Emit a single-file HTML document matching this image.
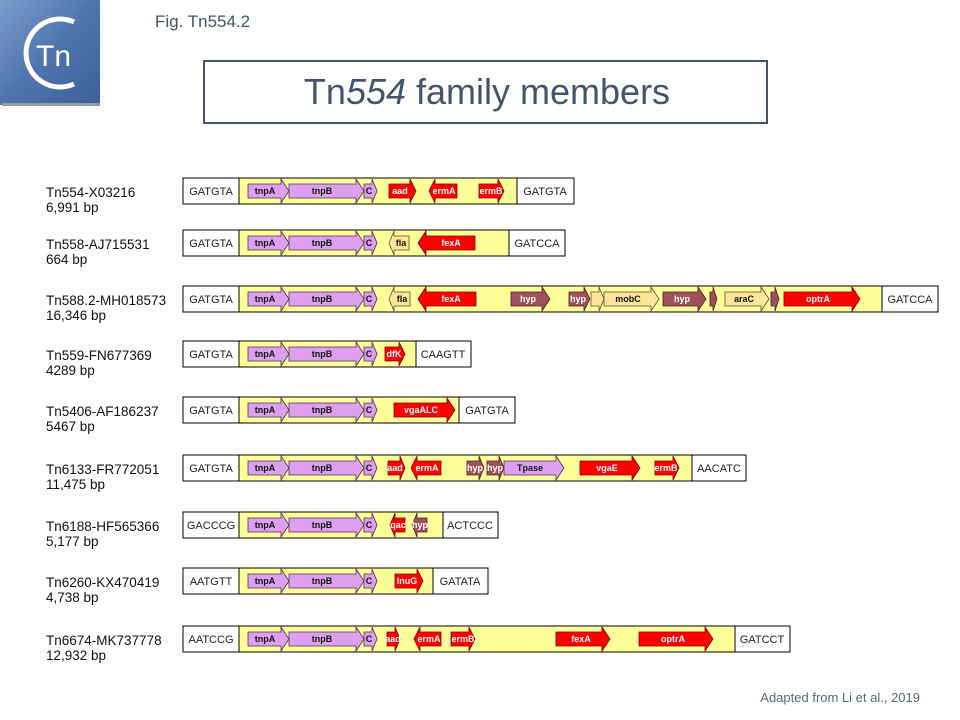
<!DOCTYPE html>
<html><head><meta charset="utf-8"><style>
body{margin:0;background:#fff}
svg{display:block}
.b{fill:#fff;stroke:#000;stroke-width:1}
.y{fill:#ffff99;stroke:#000;stroke-width:1}
.bt{font:11px "Liberation Sans",sans-serif;fill:#222;text-anchor:middle}
.p{fill:#dda0f0;stroke:#4a3050;stroke-width:.8}
.r{fill:#ff0000;stroke:#800000;stroke-width:.8}
.h{fill:#a0505a;stroke:#502028;stroke-width:.8}
.l{fill:#ffe599;stroke:#505030;stroke-width:.8}
.g{font:bold 9px "Liberation Sans",sans-serif;text-anchor:middle}
.gd{fill:#111}.gw{fill:#fff}
.nm{font:13.5px "Liberation Sans",sans-serif;fill:#111}
</style></head><body>
<svg width="960" height="720" viewBox="0 0 960 720" xmlns="http://www.w3.org/2000/svg">
<defs>
<linearGradient id="lg" x1="0" y1="0" x2="1" y2="1"><stop offset="0" stop-color="#7d9ccc"/><stop offset=".5" stop-color="#4f74ae"/><stop offset="1" stop-color="#3d609a"/></linearGradient>
<g id="core">
<polygon class="p" points="248,-7 281,-7 281,-12 289,0 281,12 281,7 248,7"/><text class="g gd" x="265" y="3">tnpA</text>
<polygon class="p" points="289,-7 356,-7 356,-12 364,0 356,12 356,7 289,7"/><text class="g gd" x="322" y="3">tnpB</text>
<polygon class="p" points="364,-7 372,-7 372,-12 377,0 372,12 372,7 364,7"/><text class="g gd" x="369" y="3">C</text>
</g>
</defs>
<rect x="0" y="0" width="100" height="105" fill="url(#lg)"/>
<rect x="2" y="103" width="98" height="3" fill="#999"/>
<path d="M74,22 A34,34 0 1 0 74,84" fill="none" stroke="#fff" stroke-width="5"/>
<text x="36" y="66" font-family="Liberation Sans,sans-serif" font-size="30" fill="#fff">Tn</text>
<text x="155" y="27" font-family="Liberation Sans,sans-serif" font-size="17" fill="#44546a">Fig. Tn554.2</text>
<rect x="204" y="61" width="563" height="62" fill="#fff" stroke="#44546a" stroke-width="2"/>
<text x="487" y="104" font-family="Liberation Sans,sans-serif" font-size="36" fill="#44546a" text-anchor="middle">Tn<tspan font-style="italic">554</tspan> family members</text>
<text x="920" y="702" font-family="Liberation Sans,sans-serif" font-size="13" fill="#5a6a7a" text-anchor="end">Adapted from Li et al., 2019</text>

<g class="nm">
<text x="46" y="197">Tn554-X03216</text><text x="46" y="212">6,991 bp</text>
<text x="46" y="249">Tn558-AJ715531</text><text x="46" y="264">664 bp</text>
<text x="46" y="305">Tn588.2-MH018573</text><text x="46" y="320">16,346 bp</text>
<text x="46" y="360">Tn559-FN677369</text><text x="46" y="375">4289 bp</text>
<text x="46" y="416">Tn5406-AF186237</text><text x="46" y="431">5467 bp</text>
<text x="46" y="474">Tn6133-FR772051</text><text x="46" y="489">11,475 bp</text>
<text x="46" y="531">Tn6188-HF565366</text><text x="46" y="546">5,177 bp</text>
<text x="46" y="587">Tn6260-KX470419</text><text x="46" y="602">4,738 bp</text>
<text x="46" y="645">Tn6674-MK737778</text><text x="46" y="660">12,932 bp</text>
</g>

<g transform="translate(0,191)">
<rect class="y" x="239" y="-13" width="278" height="26"/><rect class="b" x="183" y="-13" width="56" height="26"/><rect class="b" x="517" y="-13" width="57" height="26"/>
<text class="bt" x="211" y="4">GATGTA</text><text class="bt" x="545" y="4">GATGTA</text>
<use href="#core"/>
<polygon class="r" points="389,-7 410,-7 410,-12 416,0 410,12 410,7 389,7"/><text class="g gw" x="400" y="3">aad</text>
<polygon class="r" points="457,-7 435,-7 435,-12 429,0 435,12 435,7 457,7"/><text class="g gw" x="444" y="3">ermA</text>
<polygon class="r" points="479,-7 498,-7 498,-12 504,0 498,12 498,7 479,7"/><text class="g gw" x="491" y="3">ermB</text>
</g>

<g transform="translate(0,243)">
<rect class="y" x="239" y="-13" width="270" height="26"/><rect class="b" x="183" y="-13" width="56" height="26"/><rect class="b" x="509" y="-13" width="56" height="26"/>
<text class="bt" x="211" y="4">GATGTA</text><text class="bt" x="537" y="4">GATCCA</text>
<use href="#core"/>
<polygon class="l" points="409,-7 394,-7 394,-12 389,0 394,12 394,7 409,7"/><text class="g gd" x="401" y="3">fla</text>
<polygon class="r" points="475,-7 426,-7 426,-12 418,0 426,12 426,7 475,7"/><text class="g gw" x="451" y="3">fexA</text>
</g>

<g transform="translate(0,299)">
<rect class="y" x="239" y="-13" width="643" height="26"/><rect class="b" x="183" y="-13" width="56" height="26"/><rect class="b" x="882" y="-13" width="56" height="26"/>
<text class="bt" x="211" y="4">GATGTA</text><text class="bt" x="910" y="4">GATCCA</text>
<use href="#core"/>
<polygon class="l" points="410,-7 394,-7 394,-12 389,0 394,12 394,7 410,7"/><text class="g gd" x="402" y="3">fla</text>
<polygon class="r" points="476,-7 426,-7 426,-12 418,0 426,12 426,7 476,7"/><text class="g gw" x="451" y="3">fexA</text>
<polygon class="h" points="511,-7 542,-7 542,-12 550,0 542,12 542,7 511,7"/><text class="g gw" x="528" y="3">hyp</text>
<polygon class="h" points="569,-7 584,-7 584,-12 590,0 584,12 584,7 569,7"/><text class="g gw" x="578" y="3">hyp</text>
<polygon class="l" points="591,-7 599,-7 599,-12 604,0 599,12 599,7 591,7"/>
<polygon class="l" points="604,-7 651,-7 651,-12 659,0 651,12 651,7 604,7"/><text class="g gd" x="628" y="3">mobC</text>
<polygon class="h" points="663,-7 698,-7 698,-12 706,0 698,12 698,7 663,7"/><text class="g gw" x="682" y="3">hyp</text>
<polygon class="h" points="710,-7 713,-7 713,-12 717,0 713,12 713,7 710,7"/>
<polygon class="l" points="725,-7 761,-7 761,-12 769,0 761,12 761,7 725,7"/><text class="g gd" x="744" y="3">araC</text>
<polygon class="h" points="771,-7 775,-7 775,-12 779,0 775,12 775,7 771,7"/>
<polygon class="r" points="784,-7 852,-7 852,-12 860,0 852,12 852,7 784,7"/><text class="g gw" x="818" y="3">optrA</text>
</g>

<g transform="translate(0,354)">
<rect class="y" x="239" y="-13" width="177" height="26"/><rect class="b" x="183" y="-13" width="56" height="26"/><rect class="b" x="416" y="-13" width="55" height="26"/>
<text class="bt" x="211" y="4">GATGTA</text><text class="bt" x="443" y="4">CAAGTT</text>
<use href="#core"/>
<polygon class="r" points="385,-7 399,-7 399,-12 405,0 399,12 399,7 385,7"/><text class="g gw" x="394" y="3">dfK</text>
</g>

<g transform="translate(0,410)">
<rect class="y" x="239" y="-13" width="220" height="26"/><rect class="b" x="183" y="-13" width="56" height="26"/><rect class="b" x="459" y="-13" width="56" height="26"/>
<text class="bt" x="211" y="4">GATGTA</text><text class="bt" x="487" y="4">GATGTA</text>
<use href="#core"/>
<polygon class="r" points="394,-7 447,-7 447,-12 455,0 447,12 447,7 394,7"/><text class="g gw" x="421" y="3">vgaALC</text>
</g>

<g transform="translate(0,468)">
<rect class="y" x="239" y="-13" width="453" height="26"/><rect class="b" x="183" y="-13" width="56" height="26"/><rect class="b" x="692" y="-13" width="54" height="26"/>
<text class="bt" x="211" y="4">GATGTA</text><text class="bt" x="719" y="4">AACATC</text>
<use href="#core"/>
<polygon class="r" points="388,-7 400,-7 400,-12 405,0 400,12 400,7 388,7"/><text class="g gw" x="395" y="3">aad</text>
<polygon class="r" points="441,-7 417,-7 417,-12 411,0 417,12 417,7 441,7"/><text class="g gw" x="427" y="3">ermA</text>
<polygon class="h" points="467,-7 479,-7 479,-12 484,0 479,12 479,7 467,7"/><text class="g gw" x="475" y="3">hyp</text>
<polygon class="h" points="487,-7 499,-7 499,-12 504,0 499,12 499,7 487,7"/><text class="g gw" x="495" y="3">hyp</text>
<polygon class="p" points="504,-7 556,-7 556,-12 564,0 556,12 556,7 504,7"/><text class="g gd" x="530" y="3">Tpase</text>
<polygon class="r" points="580,-7 632,-7 632,-12 640,0 632,12 632,7 580,7"/><text class="g gw" x="607" y="3">vgaE</text>
<polygon class="r" points="655,-7 673,-7 673,-12 679,0 673,12 673,7 655,7"/><text class="g gw" x="666" y="3">ermB</text>
</g>

<g transform="translate(0,525)">
<rect class="y" x="239" y="-13" width="204" height="26"/><rect class="b" x="183" y="-13" width="56" height="26"/><rect class="b" x="443" y="-13" width="55" height="26"/>
<text class="bt" x="211" y="4">GACCCG</text><text class="bt" x="470" y="4">ACTCCC</text>
<use href="#core"/>
<polygon class="r" points="405,-7 395,-7 395,-12 390,0 395,12 395,7 405,7"/><text class="g gw" x="398" y="3">qac</text>
<polygon class="h" points="427,-7 417,-7 417,-12 412,0 417,12 417,7 427,7"/><text class="g gw" x="420" y="3">hyp</text>
</g>

<g transform="translate(0,581)">
<rect class="y" x="239" y="-13" width="194" height="26"/><rect class="b" x="183" y="-13" width="56" height="26"/><rect class="b" x="433" y="-13" width="55" height="26"/>
<text class="bt" x="211" y="4">AATGTT</text><text class="bt" x="460" y="4">GATATA</text>
<use href="#core"/>
<polygon class="r" points="395,-7 417,-7 417,-12 423,0 417,12 417,7 395,7"/><text class="g gw" x="407" y="3">lnuG</text>
</g>

<g transform="translate(0,639)">
<rect class="y" x="239" y="-13" width="496" height="26"/><rect class="b" x="183" y="-13" width="56" height="26"/><rect class="b" x="735" y="-13" width="55" height="26"/>
<text class="bt" x="211" y="4">AATCCG</text><text class="bt" x="762" y="4">GATCCT</text>
<use href="#core"/>
<polygon class="r" points="387,-7 395,-7 395,-12 400,0 395,12 395,7 387,7"/><text class="g gw" x="393" y="3">aad</text>
<polygon class="r" points="441,-7 420,-7 420,-12 414,0 420,12 420,7 441,7"/><text class="g gw" x="429" y="3">ermA</text>
<polygon class="r" points="451,-7 469,-7 469,-12 475,0 469,12 469,7 451,7"/><text class="g gw" x="463" y="3">ermB</text>
<polygon class="r" points="556,-7 602,-7 602,-12 610,0 602,12 602,7 556,7"/><text class="g gw" x="581" y="3">fexA</text>
<polygon class="r" points="639,-7 705,-7 705,-12 713,0 705,12 705,7 639,7"/><text class="g gw" x="673" y="3">optrA</text>
</g>
</svg>
</body></html>
